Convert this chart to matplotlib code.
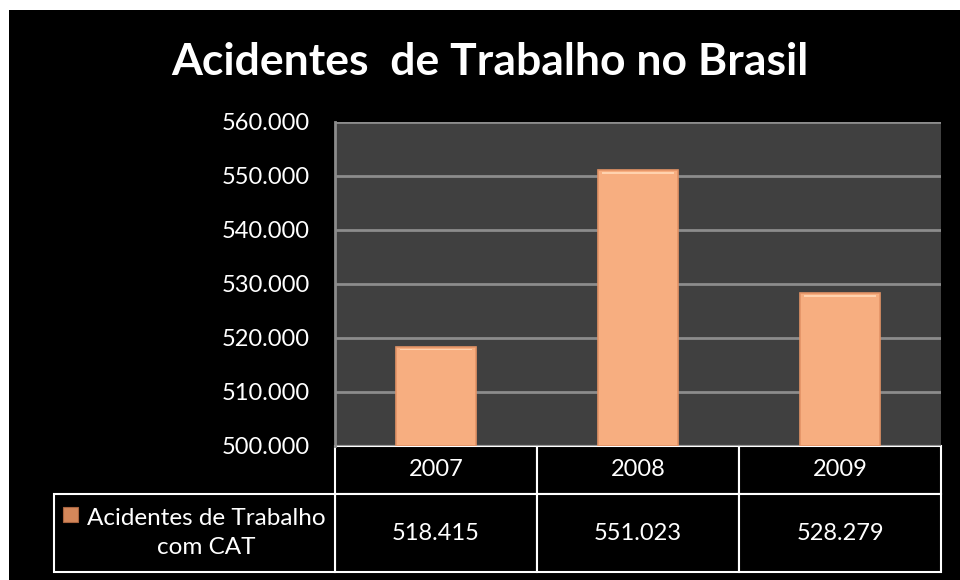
import matplotlib.pyplot as plt
from matplotlib.patches import Rectangle

plt.rcParams['font.family'] = ['Lato', 'DejaVu Sans']

title = 'Acidentes  de Trabalho no Brasil'
years = ['2007', '2008', '2009']
values = [518415, 551023, 528279]
series_name = 'Acidentes de Trabalho\ncom CAT'
y_min, y_max, y_step = 500000, 560000, 10000

bar_color = '#F7AE80'
bar_edge = '#E39366'
white = '#FFFFFF'


def fmt(v):
    return '{:,}'.format(v).replace(',', '.')


fig = plt.figure(figsize=(9.6, 5.8), dpi=100)
fig.patch.set_facecolor('white')
# black chart area, white margin on top and left
fig.add_artist(Rectangle((9 / 960, 0), 1, 570 / 580, transform=fig.transFigure,
                         facecolor='black', edgecolor='none', zorder=-10))

ax = fig.add_axes([335 / 960, 1 - 446 / 580, 606 / 960, 324 / 580])
ax.set_facecolor('#404040')

x = range(len(years))
ax.bar(x, [v - y_min for v in values], bottom=y_min, width=0.4,
       color=bar_color, edgecolor=bar_edge, linewidth=1.2, zorder=3)
# light bevel at the top of each bar
ax.bar(x, [(y_max - y_min) * 0.006] * len(values),
       bottom=[v - (y_max - y_min) * 0.012 for v in values], width=0.36,
       color='#FFD2AE', edgecolor='none', zorder=4)

ax.set_xlim(-0.5, len(years) - 0.5)
ax.set_ylim(y_min, y_max)
ticks = list(range(y_min, y_max + 1, y_step))
ax.set_yticks(ticks)
ax.set_yticklabels([fmt(t) for t in ticks], color=white, fontsize=17)
ax.set_xticks([])
ax.tick_params(axis='y', length=0, pad=18)
ax.grid(axis='y', color='#8C8C8C', linewidth=2, zorder=0)
for s in ['top', 'right', 'bottom']:
    ax.spines[s].set_visible(False)
ax.spines['left'].set_color('#8C8C8C')
ax.spines['left'].set_linewidth(2)

# data table under the plot, in axes coordinates
h_px = 324.0
w_px = 606.0
row1 = 48 / h_px
row2 = 78 / h_px
col_w = 1.0 / len(years)
lw = 1.5
for i, (yr, v) in enumerate(zip(years, values)):
    ax.add_patch(Rectangle((i * col_w, -row1), col_w, row1, transform=ax.transAxes,
                           facecolor='black', edgecolor=white, linewidth=lw, clip_on=False))
    ax.add_patch(Rectangle((i * col_w, -row1 - row2), col_w, row2, transform=ax.transAxes,
                           facecolor='black', edgecolor=white, linewidth=lw, clip_on=False))
    ax.text((i + 0.5) * col_w, -row1 / 2, yr, transform=ax.transAxes,
            ha='center', va='center', color=white, fontsize=17)
    ax.text((i + 0.5) * col_w, -row1 - row2 / 2, fmt(v), transform=ax.transAxes,
            ha='center', va='center', color=white, fontsize=17)

left = -281 / w_px
ax.add_patch(Rectangle((left, -row1 - row2), -left, row2, transform=ax.transAxes,
                       facecolor='black', edgecolor=white, linewidth=lw, clip_on=False))
ax.add_patch(Rectangle((left + 9 / w_px, -row1 - 28 / h_px), 15 / w_px, 15 / h_px,
                       transform=ax.transAxes, facecolor='#D4875A', edgecolor='#A86440',
                       linewidth=0.8, clip_on=False))
ax.text(left / 2 + 12 / w_px, -row1 - row2 / 2, series_name, transform=ax.transAxes,
        ha='center', va='center', color=white, fontsize=17.5, multialignment='center',
        linespacing=1.45)

fig.text(490 / 960, 1 - 62 / 580, title, ha='center', va='center',
         color=white, fontsize=32, fontweight='bold')

fig.savefig('out.png', dpi=100, facecolor=fig.get_facecolor())
